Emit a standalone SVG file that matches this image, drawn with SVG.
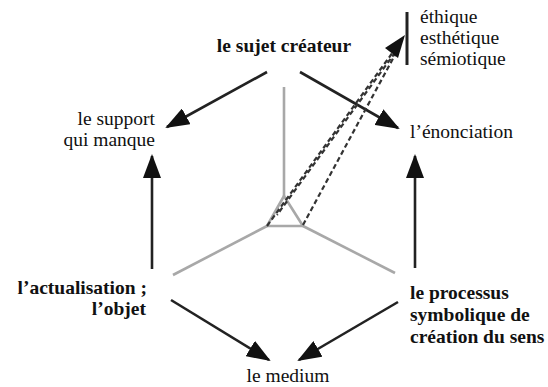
<svg xmlns="http://www.w3.org/2000/svg" width="548" height="387" viewBox="0 0 548 387">
<defs>
<marker id="ah" markerUnits="userSpaceOnUse" markerWidth="24" markerHeight="18" viewBox="0 0 24 18" refX="22" refY="9" orient="auto">
<path d="M0,0 L24,9 L0,18 z" fill="#111"/>
</marker>
</defs>
<style>
.arr{stroke:#222;stroke-width:2.6;fill:none;marker-end:url(#ah)}
.g{stroke:#a8a8a8;stroke-width:2.6;fill:none;stroke-linejoin:round}
.d{stroke:#333;stroke-width:2.2;stroke-dasharray:5 3;fill:none}
</style>
<rect width="548" height="387" fill="#fff"/>
<g id="structure">
<line class="g" x1="284" y1="87" x2="284" y2="196"/>
<path class="g" d="M284,196 L267,226 L303,226 Z"/>
<line class="g" x1="267" y1="226" x2="173" y2="275"/>
<line class="g" x1="303" y1="226" x2="395" y2="273"/>
</g>
<g id="connectors">
<line class="arr" x1="267" y1="72" x2="167" y2="127"/>
<line class="arr" x1="300" y1="72" x2="398" y2="128"/>
<line class="arr" x1="152" y1="269" x2="152" y2="156"/>
<line class="arr" x1="415" y1="268" x2="415" y2="156"/>
<line class="arr" x1="171" y1="300" x2="269" y2="360"/>
<line class="arr" x1="398" y1="302" x2="299" y2="360"/>
<line class="d" x1="267" y1="226" x2="393" y2="52"/>
<line class="d" x1="277" y1="215" x2="397" y2="50" stroke-dashoffset="4"/>
<line class="d" x1="303" y1="225" x2="396" y2="53"/>
<path d="M405,35 L385,48 L398,58 Z" fill="#111"/>
<line x1="407" y1="12" x2="407" y2="65" stroke="#222" stroke-width="3"/>
</g>
<g font-family="Liberation Serif, Times New Roman, serif" font-size="19.5" fill="#111">
<g id="n-sujet"><text font-weight="bold" x="284" y="52" text-anchor="middle">le sujet créateur</text></g>
<g id="n-support"><text text-anchor="end"><tspan x="155" y="125">le support</tspan><tspan x="155" y="146">qui manque</tspan></text></g>
<g id="n-enonciation"><text x="410" y="138">l’énonciation</text></g>
<g id="n-ethique"><text><tspan x="420" y="23">éthique</tspan><tspan x="420" y="44">esthétique</tspan><tspan x="420" y="65">sémiotique</tspan></text></g>
<g id="n-actualisation"><text font-weight="bold" text-anchor="end"><tspan x="147" y="294">l’actualisation ;</tspan><tspan x="146" y="315">l’objet</tspan></text></g>
<g id="n-processus"><text font-weight="bold"><tspan x="410" y="299">le processus</tspan><tspan x="410" y="321">symbolique de</tspan><tspan x="410" y="343">création du sens</tspan></text></g>
<g id="n-medium"><text x="288" y="382" text-anchor="middle">le medium</text></g>
</g>
</svg>
